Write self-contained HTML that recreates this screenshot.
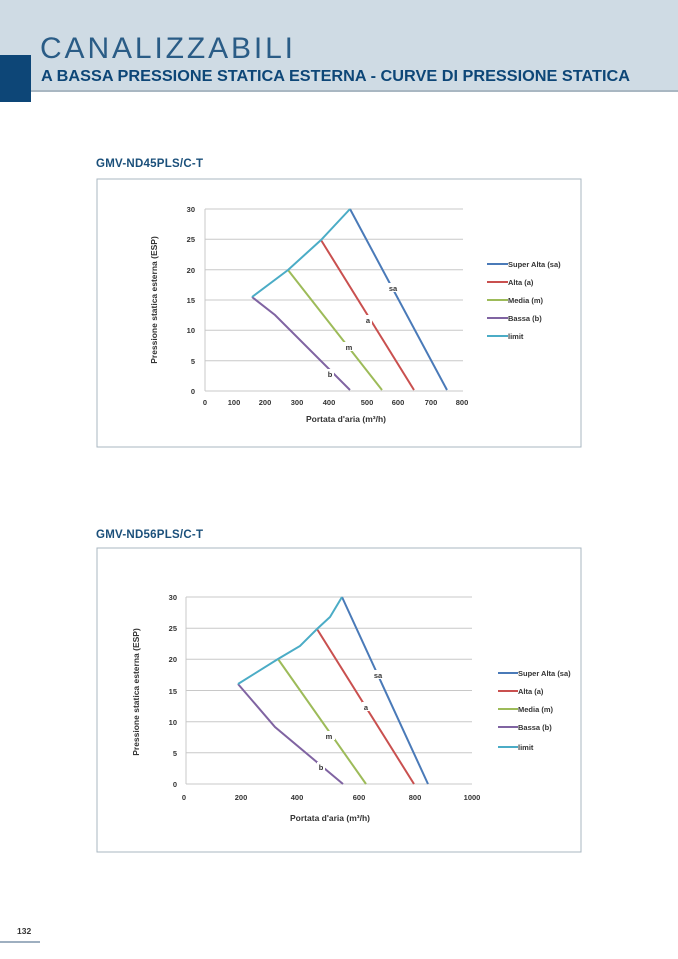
<!DOCTYPE html>
<html><head><meta charset="utf-8"><style>
body{margin:0;background:#fff;}
svg{display:block;font-family:"Liberation Sans",sans-serif;}
</style></head><body>
<svg width="678" height="959" viewBox="0 0 678 959" xmlns="http://www.w3.org/2000/svg">
<rect x="0" y="0" width="678" height="91" fill="#cfdbe4"/>
<rect x="0" y="90" width="678" height="2" fill="#a9b7c2"/>
<rect x="0" y="55" width="31" height="47" fill="#0d4677"/>
<text x="40" y="58" font-size="30" fill="#2a5c86" textLength="253" lengthAdjust="spacing">CANALIZZABILI</text>
<text x="41" y="81" font-size="15.6" font-weight="bold" fill="#0d4677" textLength="589" lengthAdjust="spacingAndGlyphs">A BASSA PRESSIONE STATICA ESTERNA - CURVE DI PRESSIONE STATICA</text>

<text x="96" y="167" font-size="11.5" font-weight="bold" fill="#1a4f7a" textLength="107">GMV-ND45PLS/C-T</text>
<rect x="97" y="179" width="484" height="268" fill="none" stroke="#a9b7c2" stroke-width="1"/>
<g stroke="#c8c8c8" stroke-width="1">
<line x1="205" y1="209" x2="463" y2="209"/><line x1="205" y1="239.3" x2="463" y2="239.3"/>
<line x1="205" y1="269.7" x2="463" y2="269.7"/><line x1="205" y1="300" x2="463" y2="300"/>
<line x1="205" y1="330.3" x2="463" y2="330.3"/><line x1="205" y1="360.7" x2="463" y2="360.7"/>
<line x1="205" y1="391" x2="463" y2="391"/><line x1="205" y1="209" x2="205" y2="391"/>
</g>
<g font-size="7.5" font-weight="bold" fill="#333" text-anchor="end">
<text x="195" y="212">30</text><text x="195" y="242">25</text><text x="195" y="273">20</text>
<text x="195" y="303">15</text><text x="195" y="333">10</text><text x="195" y="364">5</text><text x="195" y="394">0</text>
</g>
<g font-size="7.5" font-weight="bold" fill="#333" text-anchor="middle">
<text x="205" y="405">0</text><text x="234" y="405">100</text><text x="265" y="405">200</text><text x="297" y="405">300</text>
<text x="329" y="405">400</text><text x="367" y="405">500</text><text x="398" y="405">600</text><text x="431" y="405">700</text><text x="462" y="405">800</text>
<text x="346" y="422" font-size="8.5">Portata d'aria (m³/h)</text>
<text transform="translate(157,300) rotate(-90)" font-size="8.5">Pressione statica esterna (ESP)</text>
</g>
<g fill="none" stroke-width="2">
<polyline points="350,209 447,390" stroke="#4a7ab8"/>
<polyline points="321,240 414,390" stroke="#c9504f"/>
<polyline points="288,270 382,390" stroke="#9dbb59"/>
<polyline points="252,297 275,315 350,390" stroke="#8064a2"/>
<polyline points="252,297 288,270 321,240 350,209" stroke="#4bacc6"/>
</g>
<g font-size="7.5" font-weight="bold" fill="#333" text-anchor="middle">
<rect x="387" y="283" width="12" height="9" fill="#fff"/><text x="393" y="291">sa</text>
<rect x="364" y="315" width="8" height="9" fill="#fff"/><text x="368" y="323">a</text>
<rect x="342" y="342" width="12" height="9" fill="#fff"/><text x="349" y="350">m</text>
<rect x="326" y="369" width="8" height="9" fill="#fff"/><text x="330" y="377">b</text>
</g>
<g stroke-width="2">
<line x1="487" y1="264" x2="508" y2="264" stroke="#4a7ab8"/>
<line x1="487" y1="282" x2="508" y2="282" stroke="#c9504f"/>
<line x1="487" y1="300" x2="508" y2="300" stroke="#9dbb59"/>
<line x1="487" y1="318" x2="508" y2="318" stroke="#8064a2"/>
<line x1="487" y1="336" x2="508" y2="336" stroke="#4bacc6"/>
</g>
<g font-size="7.5" font-weight="bold" fill="#333">
<text x="508" y="267">Super Alta (sa)</text><text x="508" y="285">Alta (a)</text><text x="508" y="303">Media (m)</text>
<text x="508" y="321">Bassa (b)</text><text x="508" y="339">limit</text>
</g>

<text x="96" y="538" font-size="11.5" font-weight="bold" fill="#1a4f7a" textLength="107">GMV-ND56PLS/C-T</text>
<rect x="97" y="548" width="484" height="304" fill="none" stroke="#a9b7c2" stroke-width="1"/>
<g stroke="#c8c8c8" stroke-width="1">
<line x1="186" y1="597" x2="472" y2="597"/><line x1="186" y1="628.2" x2="472" y2="628.2"/>
<line x1="186" y1="659.3" x2="472" y2="659.3"/><line x1="186" y1="690.5" x2="472" y2="690.5"/>
<line x1="186" y1="721.7" x2="472" y2="721.7"/><line x1="186" y1="752.8" x2="472" y2="752.8"/>
<line x1="186" y1="784" x2="472" y2="784"/><line x1="186" y1="597" x2="186" y2="784"/>
</g>
<g font-size="7.5" font-weight="bold" fill="#333" text-anchor="end">
<text x="177" y="600">30</text><text x="177" y="631">25</text><text x="177" y="662">20</text>
<text x="177" y="694">15</text><text x="177" y="725">10</text><text x="177" y="756">5</text><text x="177" y="787">0</text>
</g>
<g font-size="7.5" font-weight="bold" fill="#333" text-anchor="middle">
<text x="184" y="800">0</text><text x="241" y="800">200</text><text x="297" y="800">400</text><text x="359" y="800">600</text>
<text x="415" y="800">800</text><text x="472" y="800">1000</text>
<text x="330" y="821" font-size="8.5">Portata d'aria (m³/h)</text>
<text transform="translate(139,692) rotate(-90)" font-size="8.5">Pressione statica esterna (ESP)</text>
</g>
<g fill="none" stroke-width="2">
<polyline points="342,597 428,784" stroke="#4a7ab8"/>
<polyline points="317,629 414,784" stroke="#c9504f"/>
<polyline points="278,659 366,784" stroke="#9dbb59"/>
<polyline points="238,684 275,727 343,784" stroke="#8064a2"/>
<polyline points="238,684 278,659 300,646 317,629 330,617 342,597" stroke="#4bacc6"/>
</g>
<g font-size="7.5" font-weight="bold" fill="#333" text-anchor="middle">
<rect x="372" y="670" width="12" height="9" fill="#fff"/><text x="378" y="678">sa</text>
<rect x="362" y="702" width="8" height="9" fill="#fff"/><text x="366" y="710">a</text>
<rect x="323" y="731" width="12" height="9" fill="#fff"/><text x="329" y="739">m</text>
<rect x="317" y="762" width="8" height="9" fill="#fff"/><text x="321" y="770">b</text>
</g>
<g stroke-width="2">
<line x1="498" y1="673" x2="518" y2="673" stroke="#4a7ab8"/>
<line x1="498" y1="691" x2="518" y2="691" stroke="#c9504f"/>
<line x1="498" y1="709" x2="518" y2="709" stroke="#9dbb59"/>
<line x1="498" y1="727" x2="518" y2="727" stroke="#8064a2"/>
<line x1="498" y1="747" x2="518" y2="747" stroke="#4bacc6"/>
</g>
<g font-size="7.5" font-weight="bold" fill="#333">
<text x="518" y="676">Super Alta (sa)</text><text x="518" y="694">Alta (a)</text><text x="518" y="712">Media (m)</text>
<text x="518" y="730">Bassa (b)</text><text x="518" y="750">limit</text>
</g>

<text x="17" y="934" font-size="8.5" font-weight="bold" fill="#333">132</text>
<line x1="0" y1="942" x2="40" y2="942" stroke="#3d5f80" stroke-width="1"/>
</svg>
</body></html>
